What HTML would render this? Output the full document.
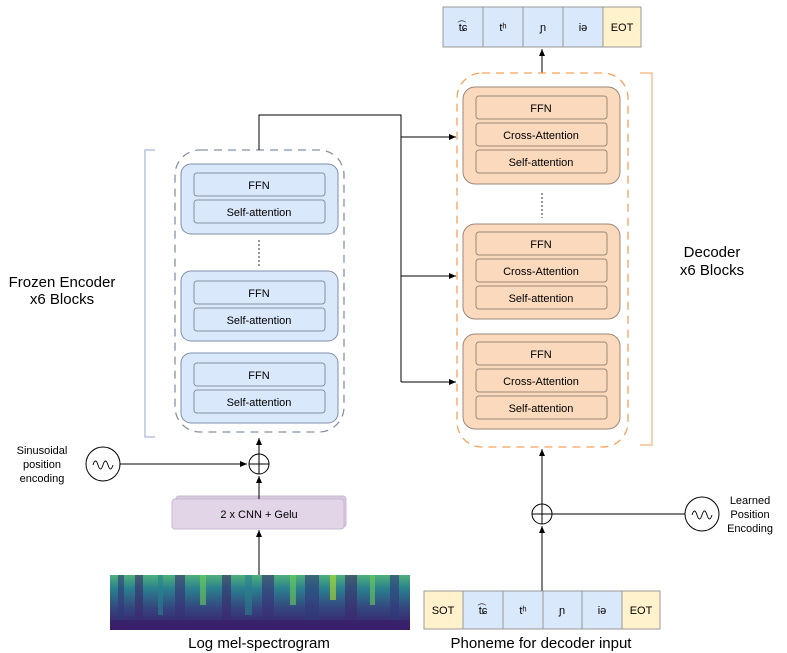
<!DOCTYPE html>
<html><head><meta charset="utf-8"><style>
html,body{margin:0;padding:0;background:#fff;}
svg{display:block;font-family:"Liberation Sans",Arial,sans-serif;}
</style></head><body>
<svg width="787" height="653" viewBox="0 0 787 653" xmlns="http://www.w3.org/2000/svg">
<defs>
<marker id="a" markerWidth="8" markerHeight="8" refX="7" refY="4" orient="auto" markerUnits="userSpaceOnUse"><path d="M0,1 L7,4 L0,7 z" fill="#000"/></marker>
<linearGradient id="sp" x1="0" y1="0" x2="0" y2="1">
<stop offset="0" stop-color="#4fb07a"/><stop offset="0.25" stop-color="#2a7f8e"/><stop offset="0.6" stop-color="#34467f"/><stop offset="1" stop-color="#3a1d6a"/></linearGradient>
</defs>
<!-- top tokens -->
<g font-size="11" text-anchor="middle">
<rect x="443" y="7" width="40" height="40" fill="#dae8fc" stroke="#999"/>
<rect x="483" y="7" width="40" height="40" fill="#dae8fc" stroke="#999"/>
<rect x="523" y="7" width="40" height="40" fill="#dae8fc" stroke="#999"/>
<rect x="563" y="7" width="40" height="40" fill="#dae8fc" stroke="#999"/>
<rect x="603" y="7" width="38" height="40" fill="#fff2cc" stroke="#999"/>
<text x="463" y="31">t͡ɕ</text><text x="503" y="31">tʰ</text><text x="543" y="31">ɲ</text><text x="583" y="31">iə</text><text x="622" y="31">EOT</text>
</g>
<line x1="542" y1="73" x2="542" y2="49" stroke="#000" marker-end="url(#a)"/>

<!-- encoder -->
<path d="M155,150 H145 V437 H155" fill="none" stroke="#a9b8d6" stroke-width="1.2"/>
<text x="62" y="287" font-size="15" text-anchor="middle">Frozen Encoder</text>
<text x="62" y="304" font-size="15" text-anchor="middle">x6 Blocks</text>
<rect x="175" y="150" width="169" height="282" rx="25" fill="none" stroke="#8593a8" stroke-width="1.3" stroke-dasharray="8,6"/>
<g font-size="11" text-anchor="middle">
<rect x="181" y="164" width="157" height="70" rx="10" fill="#dae8fc" stroke="#7f8fa8"/>
<rect x="194" y="173" width="131" height="23" rx="3" fill="#dae8fc" stroke="#8591a3"/>
<rect x="194" y="200" width="131" height="23" rx="3" fill="#dae8fc" stroke="#8591a3"/>
<text x="259" y="189">FFN</text><text x="259" y="216">Self-attention</text>
<rect x="181" y="271" width="157" height="70" rx="10" fill="#dae8fc" stroke="#7f8fa8"/>
<rect x="194" y="281" width="131" height="23" rx="3" fill="#dae8fc" stroke="#8591a3"/>
<rect x="194" y="308" width="131" height="23" rx="3" fill="#dae8fc" stroke="#8591a3"/>
<text x="259" y="297">FFN</text><text x="259" y="324">Self-attention</text>
<rect x="181" y="353" width="157" height="70" rx="10" fill="#dae8fc" stroke="#7f8fa8"/>
<rect x="194" y="363" width="131" height="23" rx="3" fill="#dae8fc" stroke="#8591a3"/>
<rect x="194" y="390" width="131" height="23" rx="3" fill="#dae8fc" stroke="#8591a3"/>
<text x="259" y="379">FFN</text><text x="259" y="406">Self-attention</text>
</g>
<line x1="259" y1="240" x2="259" y2="266" stroke="#333" stroke-dasharray="2,2"/>

<!-- encoder to decoder connections -->
<path d="M259,150 V115 H401 V382" fill="none" stroke="#000"/>
<line x1="401" y1="137" x2="456" y2="137" stroke="#000" marker-end="url(#a)"/>
<line x1="401" y1="276" x2="456" y2="276" stroke="#000" marker-end="url(#a)"/>
<line x1="401" y1="382" x2="456" y2="382" stroke="#000" marker-end="url(#a)"/>

<!-- sinusoidal -->
<circle cx="103" cy="464" r="17" fill="#fff" stroke="#000"/>
<path d="M93,465 q2.5,-8 5,0 t5,0 t5,0 t5,0" fill="none" stroke="#000" stroke-width="0.9"/>
<g font-size="11" text-anchor="middle"><text x="42" y="454">Sinusoidal</text><text x="42" y="468">position</text><text x="42" y="482">encoding</text></g>
<line x1="120" y1="464" x2="247" y2="464" stroke="#000" marker-end="url(#a)"/>
<circle cx="259" cy="464" r="10" fill="#fff" stroke="#000"/>
<path d="M249,464 H269 M259,454 V474" stroke="#000"/>
<line x1="259" y1="454" x2="259" y2="438" stroke="#000" marker-end="url(#a)"/>
<rect x="176" y="496" width="170" height="31" rx="3" fill="#d8cade" stroke="#c8b8d0"/>
<rect x="172" y="499" width="172" height="30" rx="3" fill="#e1d5e7" stroke="#c8b8d0"/>
<text x="259" y="518" font-size="11" text-anchor="middle">2 x CNN + Gelu</text>
<line x1="259" y1="499" x2="259" y2="476" stroke="#000" marker-end="url(#a)"/>
<line x1="259" y1="575" x2="259" y2="530" stroke="#000" marker-end="url(#a)"/>

<!-- spectrogram -->
<rect x="110" y="575" width="300" height="55" fill="url(#sp)"/>
<g opacity="0.6">
<rect x="118" y="575" width="6" height="55" fill="#31397a"/><rect x="135" y="575" width="8" height="55" fill="#3b2a6b"/>
<rect x="158" y="575" width="5" height="40" fill="#26828e"/><rect x="175" y="575" width="10" height="55" fill="#3a2f76"/>
<rect x="200" y="575" width="6" height="30" fill="#6ccd5a"/><rect x="222" y="575" width="9" height="55" fill="#3b2a6b"/>
<rect x="245" y="575" width="7" height="40" fill="#2a7f8e"/><rect x="262" y="575" width="12" height="55" fill="#3a2f76"/>
<rect x="290" y="575" width="6" height="30" fill="#6ccd5a"/><rect x="305" y="575" width="14" height="55" fill="#31397a"/>
<rect x="330" y="575" width="6" height="25" fill="#b5de2b"/><rect x="345" y="575" width="12" height="55" fill="#3b2a6b"/>
<rect x="370" y="575" width="5" height="30" fill="#6ccd5a"/><rect x="390" y="575" width="9" height="55" fill="#31397a"/>
<rect x="110" y="620" width="300" height="10" fill="#3a1d6a"/>
</g>
<text x="259" y="648" font-size="15" text-anchor="middle">Log mel-spectrogram</text>

<!-- decoder -->
<path d="M640,73 H652 V445 H640" fill="none" stroke="#f5b27a" stroke-width="1.2"/>
<text x="712" y="257" font-size="15" text-anchor="middle">Decoder</text>
<text x="712" y="275" font-size="15" text-anchor="middle">x6 Blocks</text>
<rect x="457" y="73" width="171" height="374" rx="25" fill="none" stroke="#f5a25c" stroke-width="1.3" stroke-dasharray="8,6"/>
<g font-size="11" text-anchor="middle">
<rect x="463" y="87" width="157" height="97" rx="12" fill="#fad9bc" stroke="#9c8878"/>
<rect x="476" y="96" width="131" height="23" rx="3" fill="#fad9bc" stroke="#9c8878"/>
<rect x="476" y="123" width="131" height="23" rx="3" fill="#fad9bc" stroke="#9c8878"/>
<rect x="476" y="150" width="131" height="23" rx="3" fill="#fad9bc" stroke="#9c8878"/>
<text x="541" y="112">FFN</text><text x="541" y="139">Cross-Attention</text><text x="541" y="166">Self-attention</text>
<rect x="463" y="224" width="157" height="95" rx="12" fill="#fad9bc" stroke="#9c8878"/>
<rect x="476" y="232" width="131" height="23" rx="3" fill="#fad9bc" stroke="#9c8878"/>
<rect x="476" y="259" width="131" height="23" rx="3" fill="#fad9bc" stroke="#9c8878"/>
<rect x="476" y="286" width="131" height="23" rx="3" fill="#fad9bc" stroke="#9c8878"/>
<text x="541" y="248">FFN</text><text x="541" y="275">Cross-Attention</text><text x="541" y="302">Self-attention</text>
<rect x="463" y="334" width="157" height="95" rx="12" fill="#fad9bc" stroke="#9c8878"/>
<rect x="476" y="342" width="131" height="23" rx="3" fill="#fad9bc" stroke="#9c8878"/>
<rect x="476" y="369" width="131" height="23" rx="3" fill="#fad9bc" stroke="#9c8878"/>
<rect x="476" y="396" width="131" height="23" rx="3" fill="#fad9bc" stroke="#9c8878"/>
<text x="541" y="358">FFN</text><text x="541" y="385">Cross-Attention</text><text x="541" y="412">Self-attention</text>
</g>
<line x1="542" y1="193" x2="542" y2="218" stroke="#333" stroke-dasharray="2,2"/>

<!-- decoder input -->
<line x1="542" y1="504" x2="542" y2="449" stroke="#000" marker-end="url(#a)"/>
<circle cx="542" cy="514" r="10" fill="#fff" stroke="#000"/>
<path d="M532,514 H552 M542,504 V524" stroke="#000"/>
<line x1="685" y1="514" x2="552" y2="514" stroke="#000"/>
<line x1="542" y1="591" x2="542" y2="526" stroke="#000" marker-end="url(#a)"/>
<circle cx="702" cy="514" r="17" fill="#fff" stroke="#000"/>
<path d="M692,515 q2.5,-8 5,0 t5,0 t5,0 t5,0" fill="none" stroke="#000" stroke-width="0.9"/>
<g font-size="11" text-anchor="middle"><text x="750" y="504">Learned</text><text x="750" y="518">Position</text><text x="750" y="532">Encoding</text></g>
<g font-size="11" text-anchor="middle">
<rect x="424" y="591" width="39" height="38" fill="#fff2cc" stroke="#999"/>
<rect x="463" y="591" width="40" height="38" fill="#dae8fc" stroke="#999"/>
<rect x="503" y="591" width="40" height="38" fill="#dae8fc" stroke="#999"/>
<rect x="543" y="591" width="39" height="38" fill="#dae8fc" stroke="#999"/>
<rect x="582" y="591" width="40" height="38" fill="#dae8fc" stroke="#999"/>
<rect x="622" y="591" width="38" height="38" fill="#fff2cc" stroke="#999"/>
<text x="443" y="614">SOT</text><text x="483" y="614">t͡ɕ</text><text x="523" y="614">tʰ</text><text x="562" y="614">ɲ</text><text x="602" y="614">iə</text><text x="641" y="614">EOT</text>
</g>
<text x="541" y="648" font-size="15" text-anchor="middle">Phoneme for decoder input</text>
</svg>
</body></html>
